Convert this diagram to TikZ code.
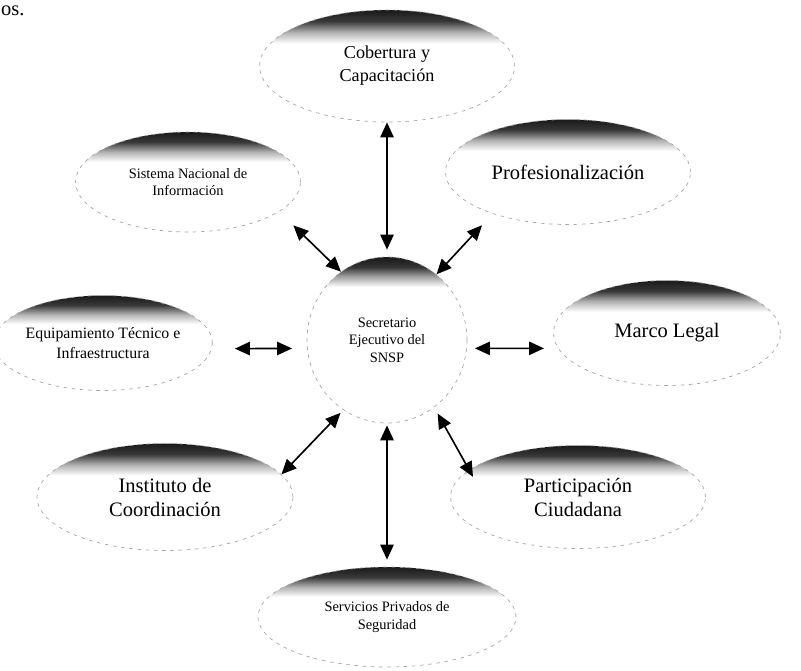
\documentclass[tikz,border=0pt]{standalone}
\usepackage{fontspec}
\setmainfont{Liberation Serif}
\usetikzlibrary{shapes.geometric,arrows.meta}

% tapa oscura arriba de cada disco
\pgfdeclareverticalshading{discotapa}{100bp}{color(0bp)=(white); color(25bp)=(white); color(60bp)=(white); color(65bp)=(black!30); color(70bp)=(black!78); color(75bp)=(black!90); color(100bp)=(black!90)}
\pgfdeclareverticalshading{discotapaalta}{100bp}{color(0bp)=(white); color(25bp)=(white); color(66bp)=(white); color(69bp)=(black!35); color(72bp)=(black!80); color(75bp)=(black!90); color(100bp)=(black!90)}

\begin{document}
\begin{tikzpicture}[
    x=0.3mm, y=-0.3mm,
    disco/.style={
        ellipse,
        shade,
        shading=discotapa,
        draw=black!35,
        dash pattern=on 3pt off 4pt,
        line width=0.6pt,
        inner sep=0pt,
        align=center
    },
    texto grande/.style={font=\fontsize{17.5}{20.5}\selectfont},
    texto medio/.style={font=\fontsize{13.5}{17}\selectfont},
    texto chico/.style={font=\fontsize{12.3}{15}\selectfont},
    flecha/.style={
        {Triangle[length=4.5mm,width=4mm]}-{Triangle[length=4.5mm,width=4mm]},
        line width=1.4pt
    }
    ]
    \useasboundingbox (0,0) rectangle (801,670);

    \node[anchor=base west, inner sep=0pt, texto grande] (os) at (1,15) {os.};

    % discos
    \node[disco, minimum width=76.5mm, minimum height=33.6mm,
        font=\fontsize{15.5}{19.5}\selectfont] (cob) at (387,66) {Cobertura y\\Capacitación};
    \node[disco, texto chico, minimum width=67.5mm, minimum height=30mm] (sis) at (188,182) {Sistema Nacional de\\Información};
    \node[disco, texto grande, minimum width=73.5mm, minimum height=31.5mm] (pro) at (568,172) {Profesionalización};
    \node[disco, texto chico, shading=discotapaalta, minimum width=48mm, minimum height=49.8mm] (secr) at (387,340) {Secretario\\Ejecutivo del\\SNSP};
    \node[disco, texto medio, minimum width=64.5mm, minimum height=28.5mm] (equ) at (103,343) {Equipamiento Técnico e\\Infraestructura};
    \node[disco, texto grande, minimum width=68.1mm, minimum height=31.5mm] (mar) at (667,333) {Marco Legal};
    \node[disco, texto grande, minimum width=76.8mm, minimum height=32.1mm] (ins) at (165,497) {Instituto de\\Coordinación};
    \node[disco, texto grande, minimum width=76.5mm, minimum height=30.9mm] (par) at (578,497) {Participación\\Ciudadana};
    \node[disco, texto chico, minimum width=77.4mm, minimum height=30mm] (ser) at (387,617) {Servicios Privados de\\Seguridad};

    % flechas
    \draw[flecha, shorten >=2.1mm] (cob.south) -- (secr.north);
    \draw[flecha, shorten <=0.6mm, shorten >=2.1mm] (secr.south) -- (ser.north);
    \draw[flecha, shorten <=6.9mm, shorten >=4.5mm] (equ.-3) -- (secr.186);
    \draw[flecha, shorten <=2.4mm, shorten >=4.2mm] (secr.-6) -- (mar.188);
    \draw[flecha, shorten <=5.9mm] (sis.-18) -- (secr.124);
    \draw[flecha, shorten <=4.7mm] (pro.209) -- (secr.53);
    \draw[flecha, shorten <=1.2mm] (secr.238) -- (ins.11);
    \draw[flecha, shorten <=2.1mm, shorten >=-2.4mm] (secr.-55) -- (par.166);
\end{tikzpicture}
\end{document}
